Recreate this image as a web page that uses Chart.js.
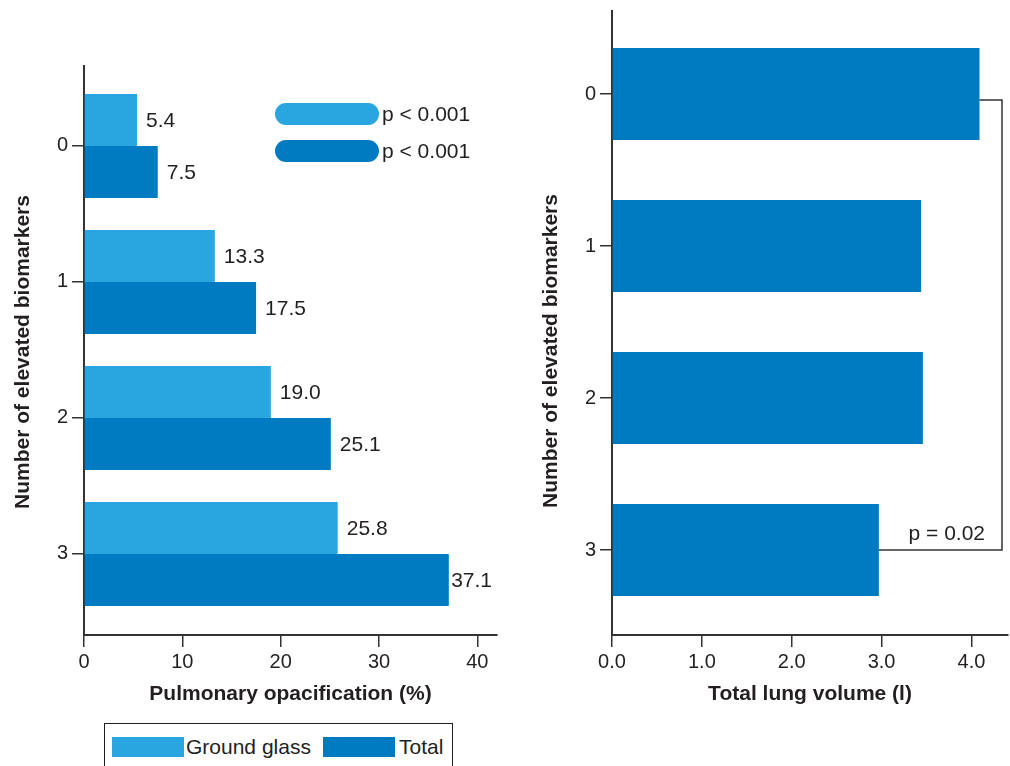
<!DOCTYPE html>
<html lang="en">
<head>
<meta charset="utf-8">
<title>Biomarkers and lung CT</title>
<style>
  body { margin: 0; width: 1010px; height: 766px; overflow: hidden; position: relative; background: #fff;
         font-family: "Liberation Sans", Arial, Helvetica, sans-serif; color: #231f20; }
  canvas { position: absolute; top: 0; }
  #leftChart { left: 0; }
  #rightChart { left: 530px; }
  .pill { position: absolute; left: 275px; width: 104px; height: 22px; border-radius: 11px; }
  .ptext { position: absolute; left: 382px; font-size: 21px; line-height: 22px; }
  .legend { position: absolute; left: 104px; top: 723px; width: 347px; height: 60px; border: 1px solid #231f20; }
  .sw { position: absolute; top: 13px; width: 72px; height: 20px; }
  .lt { position: absolute; top: 12px; font-size: 21px; line-height: 22px; }
</style>
</head>
<body>
<canvas id="leftChart" width="505" height="722"></canvas>
<canvas id="rightChart" width="480" height="722"></canvas>

<div class="pill" style="top:103px; background:#29a5df;"></div>
<div class="ptext" style="top:103px;">p &lt; 0.001</div>
<div class="pill" style="top:140px; background:#007bc1;"></div>
<div class="ptext" style="top:140px;">p &lt; 0.001</div>

<div class="legend">
  <div class="sw" style="left:7px; background:#29a5df;"></div>
  <div class="lt" style="left:81px;">Ground glass</div>
  <div class="sw" style="left:218px; background:#007bc1;"></div>
  <div class="lt" style="left:294px;">Total</div>
</div>

<script src="https://cdn.jsdelivr.net/npm/chart.js/dist/chart.umd.min.js"></script>
<script>
const categories = ['0', '1', '2', '3'];
const groundGlass = [5.4, 13.3, 19.0, 25.8];
const totalOpac = [7.5, 17.5, 25.1, 37.1];
const lungVolume = [4.09, 3.44, 3.46, 2.97];
const opacTicks = [0, 10, 20, 30, 40];
const volumeTicks = [0, 1, 2, 3, 4];

const FONT = '"Liberation Sans", Arial, Helvetica, sans-serif';
const TEXT = '#231f20';
const AXIS = '#333333';
const LIGHT = '#29a5df';
const DARK = '#007bc1';

Chart.defaults.font.family = FONT;
Chart.defaults.color = TEXT;

// rotated y title, drawn by hand so it can sit off the axis centre
const sideTitle = {
    id: 'sideTitle',
    afterDraw(chart, args, opts) {
        const ctx = chart.ctx;
        ctx.save();
        ctx.translate(opts.x, opts.y);
        ctx.rotate(-Math.PI / 2);
        ctx.font = 'bold 21px ' + FONT;
        ctx.fillStyle = TEXT;
        ctx.textAlign = 'center';
        ctx.textBaseline = 'middle';
        ctx.fillText(opts.text, 0, 0);
        ctx.restore();
    }
};

// value labels at the end of each bar
const barLabels = {
    id: 'barLabels',
    afterDatasetsDraw(chart) {
        const ctx = chart.ctx;
        ctx.save();
        ctx.font = '21px ' + FONT;
        ctx.fillStyle = TEXT;
        ctx.textBaseline = 'middle';
        chart.data.datasets.forEach((ds, di) => {
            chart.getDatasetMeta(di).data.forEach((bar, i) => {
                const txt = ds.data[i].x.toFixed(1);
                const w = ctx.measureText(txt).width;
                const x = Math.min(bar.x + 9, chart.chartArea.right - 5 - w);
                ctx.fillText(txt, x, bar.y + 1);
            });
        });
        ctx.restore();
    }
};

// bracket between first and last bar with the p value
const bracket = {
    id: 'bracket',
    afterDatasetsDraw(chart) {
        const ctx = chart.ctx;
        const bars = chart.getDatasetMeta(0).data;
        const first = bars[0], last = bars[bars.length - 1];
        const xr = chart.chartArea.right - 6;
        ctx.save();
        ctx.strokeStyle = AXIS;
        ctx.lineWidth = 1.5;
        ctx.beginPath();
        ctx.moveTo(first.x, first.y + 6);
        ctx.lineTo(xr, first.y + 6);
        ctx.lineTo(xr, last.y);
        ctx.lineTo(last.x, last.y);
        ctx.stroke();
        ctx.font = '21px ' + FONT;
        ctx.fillStyle = TEXT;
        ctx.textAlign = 'right';
        ctx.textBaseline = 'middle';
        ctx.fillText('p = 0.02', xr - 17, last.y - 16);
        ctx.restore();
    }
};

function xAxis(max, ticks, title, fmt) {
    return {
        type: 'linear',
        min: 0,
        max: max,
        afterBuildTicks: s => { s.ticks = ticks.map(v => ({ value: v })); },
        afterFit: s => { s.height = 87; },
        border: { color: AXIS, width: 2 },
        grid: { drawOnChartArea: false, color: AXIS, tickLength: 12, lineWidth: 1.5 },
        ticks: { font: { size: 20 }, color: TEXT, padding: 3, callback: fmt },
        title: { display: true, text: title, font: { size: 21, weight: 'bold' }, color: TEXT,
                 padding: { top: 0, bottom: 15 } }
    };
}

function yAxis(min, max, width) {
    return {
        type: 'linear',
        reverse: true,
        offset: false,
        min: min,
        max: max,
        afterBuildTicks: s => { s.ticks = categories.map((c, i) => ({ value: i })); },
        afterFit: s => { s.width = width; s.paddingTop = 0; s.paddingBottom = 0; },
        border: { color: AXIS, width: 2 },
        grid: { drawOnChartArea: false, offset: false, color: AXIS, tickLength: 12, lineWidth: 1.5 },
        ticks: { font: { size: 20 }, color: TEXT, padding: 4, callback: v => categories[v] }
    };
}

new Chart(document.getElementById('leftChart'), {
    type: 'bar',
    data: {
        datasets: [{
            label: 'Ground glass',
            data: groundGlass.map((v, i) => ({ x: v, y: i })),
            backgroundColor: LIGHT
        }, {
            label: 'Total',
            data: totalOpac.map((v, i) => ({ x: v, y: i })),
            backgroundColor: DARK
        }]
    },
    options: {
        indexAxis: 'y',
        responsive: false,
        animation: false,
        categoryPercentage: 0.765,
        barPercentage: 1,
        layout: { padding: { top: 66, right: 8, left: 0, bottom: 0 } },
        scales: {
            x: xAxis(42, opacTicks, 'Pulmonary opacification (%)', v => v),
            y: yAxis(-0.588, 3.596, 84)
        },
        plugins: {
            legend: { display: false },
            tooltip: { enabled: false },
            sideTitle: { text: 'Number of elevated biomarkers', x: 23, y: 352 }
        }
    },
    plugins: [sideTitle, barLabels]
});

new Chart(document.getElementById('rightChart'), {
    type: 'bar',
    data: {
        datasets: [{
            label: 'Total lung volume',
            data: lungVolume.map((v, i) => ({ x: v, y: i })),
            backgroundColor: DARK
        }]
    },
    options: {
        indexAxis: 'y',
        responsive: false,
        animation: false,
        categoryPercentage: 0.605,
        barPercentage: 1,
        layout: { padding: { top: 11, right: 2, left: 0, bottom: 0 } },
        scales: {
            x: xAxis(4.407, volumeTicks, 'Total lung volume (l)', v => v.toFixed(1)),
            y: yAxis(-0.546, 3.559, 82)
        },
        plugins: {
            legend: { display: false },
            tooltip: { enabled: false },
            sideTitle: { text: 'Number of elevated biomarkers', x: 21, y: 351 }
        }
    },
    plugins: [sideTitle, bracket]
});
</script>
</body>
</html>
